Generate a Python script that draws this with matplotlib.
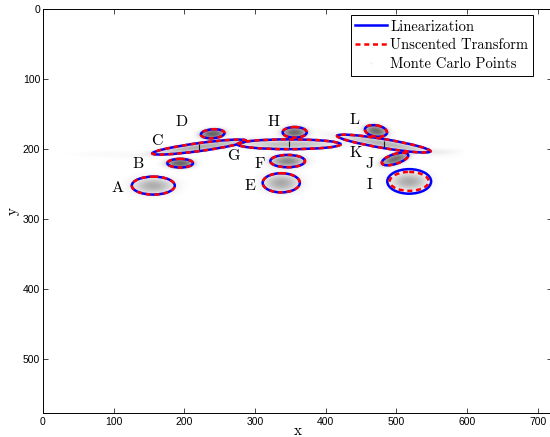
import numpy as np
import matplotlib.pyplot as plt
from matplotlib.patches import Ellipse
from matplotlib.lines import Line2D

# estimated targets: centre, ellipse semi axes (pixels), tilt (deg)
names = list("ABCDEFGHIJKL")
center_x = [156, 194, 221, 240, 337, 346, 348, 356, 518, 498, 482, 471]
center_y = [252, 220, 197, 178, 248, 217, 193, 176, 246, 214, 192, 174]
angle = [0, 0, -7.8, -4, 0, 0, 0, 0, 0, -18, 9.5, 10]

lin_a = [30.4, 18.1, 67.0, 16.7, 26.3, 24.5, 73.0, 17.0, 31.0, 19.5, 67.0, 15.8]
lin_b = [12.8, 6.2, 5.7, 6.4, 13.7, 8.8, 7.0, 7.6, 17.5, 7.0, 6.4, 8.0]
ut_a = [30.4, 18.1, 67.0, 16.7, 26.3, 24.5, 73.0, 17.0, 27.6, 19.5, 67.0, 15.8]
ut_b = [12.8, 6.2, 5.7, 6.4, 13.7, 8.8, 7.0, 7.6, 13.5, 7.0, 6.4, 8.0]

label_x = [106, 134, 161, 196, 293, 306, 269, 326, 462, 462, 443, 441]
label_y = [256, 222, 189, 161, 253, 222, 210, 161, 251, 221, 206, 159]

# faint outliers trailing off the long ellipses C and K
tail_x = [100, 570]
tail_y = [207, 203]
tail_sx = [40, 14]
tail_sy = [3, 2.5]
tail_w = [0.05, 0.03]

W, H = 720, 576
k_sigma = 1.8

serif = "cmr10"
plt.rcParams["axes.linewidth"] = 0.7

fig = plt.figure(figsize=(5.5, 4.37), dpi=100)
ax = fig.add_axes([43 / 550, (437 - 412.7) / 437, 509 / 550, 403.7 / 437])

# point-cloud shading: gaussian spread from the ellipse covariances
gx, gy = np.meshgrid(np.arange(W) + 0.5, np.arange(H) + 0.5)
dens = np.zeros_like(gx)
for cx, cy, a, b, th in zip(center_x, center_y, ut_a, ut_b, angle):
    t = np.deg2rad(th)
    dx, dy = gx - cx, gy - cy
    u = dx * np.cos(t) + dy * np.sin(t)
    v = -dx * np.sin(t) + dy * np.cos(t)
    sa, sb = a / k_sigma, b / k_sigma
    dens += np.exp(-0.5 * ((u / sa) ** 2 + (v / sb) ** 2)) / (2 * np.pi * sa * sb)
for cx, cy, sa, sb, w in zip(tail_x, tail_y, tail_sx, tail_sy, tail_w):
    dens += w * np.exp(-0.5 * (((gx - cx) / sa) ** 2 + ((gy - cy) / sb) ** 2)) / (2 * np.pi * sa * sb)

cover = 1 - np.exp(-500 * dens)
rgba = np.zeros((H, W, 4))
rgba[..., :3] = 0.22
rgba[..., 3] = 0.85 * cover
ax.imshow(rgba, extent=(0, W, H, 0), origin="upper", interpolation="bilinear", zorder=1)

lw = 1.8
dash = (0, (2.0, 1.5))
for i in range(len(names)):
    ax.add_patch(Ellipse((center_x[i], center_y[i]), 2 * lin_a[i], 2 * lin_b[i], angle=angle[i],
                         fill=False, ec="blue", lw=lw, zorder=3))
    ax.add_patch(Ellipse((center_x[i], center_y[i]), 2 * ut_a[i], 2 * ut_b[i], angle=angle[i],
                         fill=False, ec="red", lw=lw, ls=dash, zorder=4))
    ax.text(label_x[i], label_y[i], names[i], family=serif, fontsize=11.5,
            ha="center", va="center", zorder=5)

# centre markers on the elongated ones
for i in (2, 6, 10):
    ax.plot(center_x[i], center_y[i], marker="|", ms=4, mew=0.8, color="0.1", zorder=2)

ax.set_xlim(0, W)
ax.set_ylim(H, 0)
ax.set_aspect("auto")
ax.set_xticks(np.arange(0, 701, 100))
ax.set_yticks(np.arange(0, 501, 100))
ax.tick_params(direction="in", length=3.3, width=0.5, top=True, right=True,
               labelsize=7.5, pad=3)
ax.tick_params(axis="y", pad=2)
for lab in ax.get_xticklabels() + ax.get_yticklabels():
    lab.set_family("Liberation Sans")

ax.set_xlabel("x", family=serif, fontsize=11, labelpad=-2)
ax.set_ylabel("y", family=serif, fontsize=11, labelpad=2)

handles = [
    Line2D([], [], color="blue", lw=lw),
    Line2D([], [], color="red", lw=lw, ls=dash),
    Line2D([], [], color="0.85", ls="none", marker=".", ms=0.5),
]
leg = ax.legend(handles, ["Linearization", "Unscented Transform", "Monte Carlo Points"],
                loc="upper right", bbox_to_anchor=(0.962, 0.984), borderaxespad=0,
                prop={"family": serif, "size": 10.5}, fancybox=False, framealpha=1,
                edgecolor="black", handlelength=2.2, handletextpad=0.2,
                labelspacing=0.35, borderpad=0.3)
leg.get_frame().set_linewidth(0.7)

fig.savefig("out.png", dpi=100)
